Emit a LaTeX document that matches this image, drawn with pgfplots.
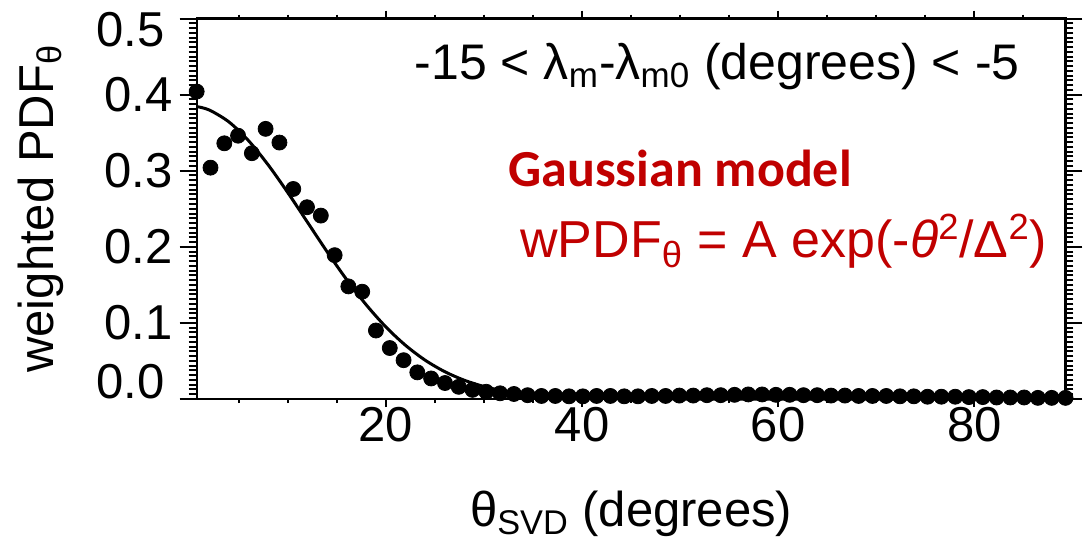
\documentclass[border=0pt]{standalone}
\usepackage{fontspec}
\setmainfont{Liberation Sans}
\newfontfamily\calibri{Carlito}
\usepackage{pgfplots}
\pgfplotsset{compat=1.18}
\definecolor{annot}{HTML}{C00000}

\pgfplotsset{
  frame/.style={
    at={(98.35pt,71.5pt)}, anchor=south west, scale only axis,
    width=434.4pt, height=190.25pt,
    xmin=0.703, xmax=89.297, ymin=0, ymax=0.5,
    clip=false, tick align=outside,
    axis line style={line width=1.1pt},
    tick style={black, line width=1pt},
    tick label style={font=\fontsize{24.5}{29}\selectfont},
    label style={font=\fontsize{24.5}{29}\selectfont},
    /pgf/number format/assume math mode=true,
  },
}

\begin{document}
\begin{tikzpicture}
\useasboundingbox (0pt,0pt) rectangle (542pt,271pt);

% x ticks, data and fit
\begin{axis}[frame,
  xtick={20,40,60,80}, minor xtick={5,10,...,85},
  ytick=\empty,
  xtick pos=both, xticklabel pos=lower,
  xticklabel shift=-3.3pt,
  major tick length=4pt, minor tick length=2pt,
  xlabel={θ\textsubscript{SVD} (degrees)},
  xlabel style={at={(axis description cs:0.5,-0.336)}, anchor=base},
]
  % binned weighted PDF
  \addplot[only marks, mark=*, mark size=3.75pt, black] coordinates {
    (0.70,0.404) (2.11,0.304) (3.52,0.336) (4.92,0.346) (6.33,0.323)
    (7.73,0.355) (9.14,0.337) (10.55,0.276) (11.95,0.252) (13.36,0.241)
    (14.77,0.189) (16.17,0.148) (17.58,0.141) (18.98,0.090) (20.39,0.067)
    (21.80,0.051) (23.20,0.035) (24.61,0.027) (26.02,0.021) (27.42,0.016)
    (28.83,0.012) (30.23,0.0095) (31.64,0.0075) (33.05,0.0066) (34.45,0.005)
    (35.86,0.004) (37.27,0.004) (38.67,0.0035) (40.08,0.0035) (41.48,0.004)
    (42.89,0.004) (44.30,0.0035) (45.70,0.0035) (47.11,0.004) (48.52,0.004)
    (49.92,0.0045) (51.33,0.0045) (52.73,0.005) (54.14,0.005) (55.55,0.0055)
    (56.95,0.006) (58.36,0.006) (59.77,0.0055) (61.17,0.0055) (62.58,0.005)
    (63.98,0.005) (65.39,0.0045) (66.80,0.0045) (68.20,0.004) (69.61,0.004)
    (71.02,0.004) (72.42,0.0035) (73.83,0.0035) (75.23,0.003) (76.64,0.003)
    (78.05,0.003) (79.45,0.0025) (80.86,0.0025) (82.27,0.002) (83.67,0.002)
    (85.08,0.002) (86.48,0.0015) (87.89,0.0015) (89.30,0.0015)
  };
  % gaussian fit, A = 0.385, Delta = 16.9
  \addplot[black, line width=1.5pt, smooth] coordinates {
    (0.703,0.3843) (2,0.3797) (4,0.3640) (6,0.3393) (8,0.3075) (10,0.2711)
    (12,0.2323) (14,0.1935) (16,0.1568) (18,0.1236) (20,0.0946) (22,0.0705)
    (24,0.0510) (26,0.0359) (28,0.0246) (30,0.0164) (32,0.0106) (34,0.0067)
    (36,0.0041) (38,0.0024) (40,0.0014) (44,0.0004) (50,0.0000) (89.297,0.0000)
  };
\end{axis}

% y ticks and label; the end labels are nudged inside the frame as in the original
\begin{axis}[frame,
  xtick=\empty,
  ytick={0,0.1,...,0.5}, minor y tick num=15,
  yticklabels={,0.1,0.2,0.3,0.4,},
  ytick pos=both, yticklabel pos=left,
  major tick length=8.5pt, minor tick length=4pt,
  ylabel={weighted PDF\textsubscript{θ}},
  ylabel style={at={(axis description cs:-0.165,0.5)}, anchor=base},
]
\end{axis}

\node[anchor=east, inner sep=0pt, font=\fontsize{24.5}{29}\selectfont] at (82.5pt,80pt) {0.0};
\node[anchor=east, inner sep=0pt, font=\fontsize{24.5}{29}\selectfont] at (82.5pt,256.25pt) {0.5};

\node[anchor=base east, inner sep=0pt, font=\fontsize{25}{30}\selectfont]
  at (510pt,231pt) {-15 < λ\textsubscript{m}-λ\textsubscript{m0} (degrees) < -5};
\node[anchor=base west, inner sep=0pt, text=annot, font=\calibri\bfseries\fontsize{26}{30}\selectfont]
  at (254pt,177.5pt) {Gaussian model};
\node[anchor=base west, inner sep=0pt, text=annot, font=\fontsize{26}{30}\selectfont]
  at (260pt,142pt) {wPDF\textsubscript{θ} = A exp(-\textit{θ}\textsuperscript{2}/Δ\textsuperscript{2})};
\end{tikzpicture}
\end{document}
